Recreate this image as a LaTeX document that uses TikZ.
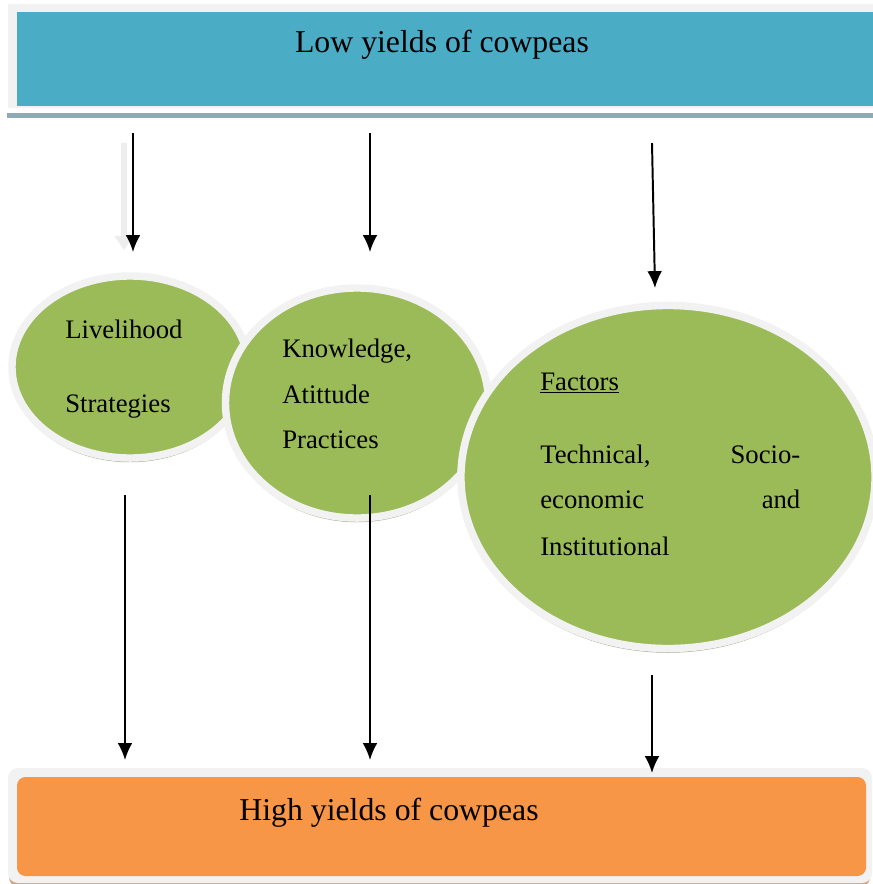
\documentclass[tikz,border=0pt]{standalone}
\usepackage{fontspec}
\setmainfont{Liberation Serif}
\usetikzlibrary{shapes,positioning,arrows.meta}
\definecolor{lowblue}{HTML}{4BACC6}
\definecolor{leafgreen}{HTML}{9BBB59}
\definecolor{highorange}{HTML}{F79646}
\definecolor{ringgray}{HTML}{F2F2F2}
\definecolor{bandgray}{HTML}{8FAAB4}
\definecolor{bubbleshade}{HTML}{A3AD8C}
\definecolor{boxshade}{HTML}{D2A27C}

\begin{document}
\begin{tikzpicture}[x=0.025cm,y=-0.025cm]
        %
        % `bubble' is used for the three green ellipses.
        % `flow' is used for the black arrows, `ghost' for the faint one.
        % `title' and `ovaltext' are the two text sizes.
        \tikzstyle{bubble} = [ellipse,fill=leafgreen,draw=ringgray,line width=5.3pt,inner sep=0pt,
             preaction={fill=bubbleshade,transform canvas={yshift=-3pt}}]
        \tikzstyle{flow} = [-{Latex[length=12pt,width=10.5pt]},line width=1.4pt]
        \tikzstyle{ghost} = [-{Triangle[length=10pt,width=13pt]},line width=4pt,draw=black!7]
        \tikzstyle{title} = [font=\fontsize{22.6}{26}\selectfont,anchor=base,inner sep=0pt]
        \tikzstyle{ovaltext} = [font=\fontsize{19}{23}\selectfont,anchor=base west,inner sep=0pt]
        \useasboundingbox (0,0) rectangle (873,884);
        %
        % Top box
        \fill[bandgray] (7,113) rectangle (880,118);
        \fill[ringgray] (8,4) rectangle (880,108);
        \fill[lowblue] (17,12) rectangle (880,106);
        \node[title] (low) at (442,52) {Low yields of cowpeas};
        %
        % Bottom box
        \fill[boxshade,rounded corners=7pt] (9,774) rectangle (870,887);
        \fill[ringgray,rounded corners=7pt] (8,768) rectangle (872,883);
        \fill[highorange,rounded corners=6pt] (17,777) rectangle (866,876);
        \node[title] (high) at (389,820) {High yields of cowpeas};
        %
        % Ellipses
        \node[bubble,minimum width=5.9cm,minimum height=4.55cm] (livelihood) at (130,367) {};
        \node[bubble,minimum width=6.575cm,minimum height=5.75cm] (knowledge) at (357,403) {};
        \node[bubble,minimum width=10.35cm,minimum height=8.575cm] (factors) at (668,477) {};
        %
        % Texts in the ellipses
        \node[ovaltext] (lv1) at (65,338) {Livelihood};
        \node[ovaltext] (lv2) at (65,412) {Strategies};
        \node[ovaltext] (kn1) at (282,357) {Knowledge,};
        \node[ovaltext] (kn2) at (282,403) {Atittude};
        \node[ovaltext] (kn3) at (282,448) {Practices};
        \node[ovaltext] (fc0) at (540,390) {\underline{Factors}};
        \node[ovaltext] (fc1) at (540,463) {\makebox[6.5cm][s]{Technical,\hfill Socio-}};
        \node[ovaltext] (fc2) at (540,508) {\makebox[6.5cm][s]{economic\hfill and}};
        \node[ovaltext] (fc3) at (540,555) {Institutional};
        %
        % Arrow ends
        \coordinate (g1s) at (124,143);
        \coordinate (g1e) at (124,250);
        \coordinate (a1s) at (133,133);
        \coordinate (a1e) at (133,252);
        \coordinate (a2s) at (370,133);
        \coordinate (a2e) at (370,252);
        \coordinate (a3s) at (652,143);
        \coordinate (a3e) at (655,288);
        \coordinate (b1s) at (125,495);
        \coordinate (b1e) at (125,760);
        \coordinate (b2s) at (370,495);
        \coordinate (b2e) at (370,760);
        \coordinate (b3s) at (652,675);
        \coordinate (b3e) at (652,773);
        %
        % Arrows
        \draw[ghost] (g1s) -- (g1e);
        \draw[flow] (a1s) -- (a1e);
        \draw[flow] (a2s) -- (a2e);
        \draw[flow] (a3s) -- (a3e);
        \draw[flow] (b1s) -- (b1e);
        \draw[flow] (b2s) -- (b2e);
        \draw[flow] (b3s) -- (b3e);
        %
\end{tikzpicture}
\end{document}
